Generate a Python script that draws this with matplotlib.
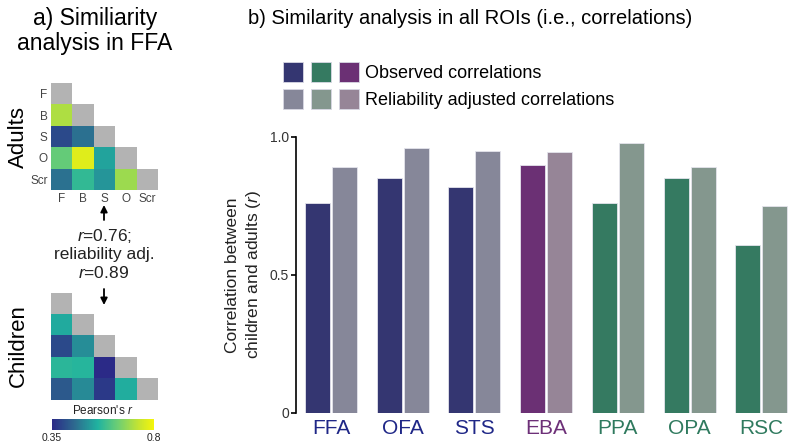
import numpy as np
import matplotlib
matplotlib.use("Agg")
import matplotlib.pyplot as plt
from matplotlib.colors import LinearSegmentedColormap, ListedColormap
from matplotlib.patches import Patch, FancyArrowPatch
from matplotlib.legend_handler import HandlerTuple

plt.rcParams["font.family"] = ["Liberation Sans", "DejaVu Sans"]
plt.rcParams["mathtext.fontset"] = "custom"
plt.rcParams["mathtext.it"] = "Liberation Sans:italic"
plt.rcParams["mathtext.rm"] = "Liberation Sans"

# ---------------- data ----------------
matrix_labels = ["F", "B", "S", "O", "Scr"]

# lower triangle of the similarity matrices (row by row, diagonal excluded)
adults_lower = [
    [],
    [0.71],
    [0.40, 0.458],
    [0.63, 0.77, 0.53],
    [0.46, 0.575, 0.51, 0.69],
]
children_lower = [
    [],
    [0.54],
    [0.40, 0.50],
    [0.565, 0.56, 0.35],
    [0.425, 0.495, 0.375, 0.545],
]
cbar_min, cbar_max = 0.35, 0.8

rois = ["FFA", "OFA", "STS", "EBA", "PPA", "OPA", "RSC"]
roi_group = ["face", "face", "face", "body", "scene", "scene", "scene"]
observed = [0.76, 0.85, 0.82, 0.90, 0.76, 0.85, 0.61]
adjusted = [0.89, 0.96, 0.95, 0.945, 0.98, 0.89, 0.75]

# ---------------- styles ----------------
dark_colors = {"face": "#343671", "body": "#6b3074", "scene": "#357a61"}
light_colors = {"face": "#868799", "body": "#968597", "scene": "#84978e"}
label_colors = {"face": "#1f2787", "body": "#6d3078", "scene": "#2f7a5e"}
diag_gray = "#b3b3b3"
rsm_cmap = LinearSegmentedColormap.from_list(
    "rsm",
    [(0.0, "#2b2a87"), (0.22, "#2d6a8f"), (0.45, "#20b3a0"),
     (0.65, "#6fcf72"), (0.85, "#c4e432"), (1.0, "#f5f50a")])

W, H = 800, 446
fig = plt.figure(figsize=(W / 100, H / 100), dpi=100)


def px_axes(left, top, width, height):
    """Axes placed with pixel coordinates measured from the top-left."""
    return fig.add_axes([left / W, 1 - (top + height) / H, width / W, height / H])


def build_matrix(lower):
    n = len(matrix_labels)
    mat = np.full((n, n), np.nan)
    for i, row in enumerate(lower):
        for j, v in enumerate(row):
            mat[i, j] = v
    return mat


def draw_rsm(ax, lower, show_labels):
    n = len(matrix_labels)
    mat = build_matrix(lower)
    cmap = rsm_cmap.copy()
    cmap.set_bad((1, 1, 1, 0))
    im = ax.imshow(mat, cmap=cmap, vmin=cbar_min, vmax=cbar_max,
                   interpolation="nearest")
    diag = np.full((n, n), np.nan)
    np.fill_diagonal(diag, 1.0)
    ax.imshow(diag, cmap=ListedColormap([diag_gray]), interpolation="nearest")
    for sp in ax.spines.values():
        sp.set_visible(False)
    ax.tick_params(length=0, labelsize=8.5, labelcolor="#444444", pad=2.5)
    if show_labels:
        ax.set_xticks(range(n))
        ax.set_xticklabels(matrix_labels)
        ax.set_yticks(range(n))
        ax.set_yticklabels(matrix_labels)
    else:
        ax.set_xticks([])
        ax.set_yticks([])
    ax.set_xlim(-0.5, n - 0.5)
    ax.set_ylim(n - 0.5, -0.5)
    return im


# ---------------- panel a ----------------
fig.text(95, H - 31, "a) Similiarity\nanalysis in FFA", transform=None,
         ha="center", va="center", fontsize=16.5, linespacing=1.15)

ax_ad = px_axes(51, 83, 107, 107)
draw_rsm(ax_ad, adults_lower, True)
ax_ch = px_axes(51, 293, 107, 107)
im = draw_rsm(ax_ch, children_lower, False)

fig.text(18, H - 137, "Adults", transform=None, rotation=90,
         ha="center", va="center", fontsize=16)
fig.text(18, H - 346, "Children", transform=None, rotation=90,
         ha="center", va="center", fontsize=16)

arrow_x = 104
for y0, y1 in [(220, 205), (289, 305)]:
    fig.add_artist(FancyArrowPatch(
        (arrow_x / W, 1 - y0 / H), (arrow_x / W, 1 - y1 / H),
        transform=fig.transFigure, arrowstyle="-|>", mutation_scale=10,
        color="black", lw=1.3, shrinkA=0, shrinkB=0))
fig.text(arrow_x, H - 254,
         "$r$=0.76;\nreliability adj.\n$r$=0.89",
         transform=None, ha="center", va="center", fontsize=12.5,
         linespacing=1.2, color="#222222")

cax = px_axes(52, 419, 102, 11)
cb = fig.colorbar(im, cax=cax, orientation="horizontal")
cb.outline.set_visible(False)
cb.set_ticks([])
fig.text(103, H - 410, "Pearson's $r$", transform=None, ha="center",
         va="center", fontsize=8.5, color="#222222")
fig.text(52, H - 438, f"{cbar_min}", transform=None, ha="center",
         va="center", fontsize=7.5, color="#222222")
fig.text(154, H - 438, f"{cbar_max}", transform=None, ha="center",
         va="center", fontsize=7.5, color="#222222")

# ---------------- panel b ----------------
fig.text(248, H - 18, "b) Similarity analysis in all ROIs (i.e., correlations)",
         transform=None, ha="left", va="center", fontsize=14.5)

ax = px_axes(296, 137, 499, 276)
x = np.arange(len(rois))
off = 0.188
bw = 0.35
ax.bar(x - off, observed, width=bw,
       color=[dark_colors[g] for g in roi_group],
       edgecolor="#e4e4ec", linewidth=0.6)
ax.bar(x + off, adjusted, width=bw,
       color=[light_colors[g] for g in roi_group],
       edgecolor="#e4e4ec", linewidth=0.6)

ax.set_xlim(-0.488, 6.47)
ax.set_ylim(0, 1.0)
for side in ["top", "right", "bottom"]:
    ax.spines[side].set_visible(False)
ax.spines["left"].set_bounds(0, 1.0)
ax.spines["left"].set_linewidth(1.2)
ax.set_yticks([0, 0.5, 1.0])
ax.set_yticklabels(["0", "0.5", "1.0"])
ax.tick_params(axis="y", direction="out", length=3.5, width=1.2,
               labelsize=10, labelcolor="#333333", pad=1.5)
ax.set_xticks(x)
ax.set_xticklabels(rois)
ax.tick_params(axis="x", length=0, labelsize=15, pad=4)
for lbl, g in zip(ax.get_xticklabels(), roi_group):
    lbl.set_color(label_colors[g])

ax.set_ylabel("Correlation between\nchildren and adults ($r$)",
              fontsize=12.5, labelpad=5, linespacing=1.25, color="#222222")

obs_handle = tuple(Patch(facecolor=dark_colors[g], edgecolor="#d8d8e4", lw=0.6)
                   for g in ["face", "scene", "body"])
adj_handle = tuple(Patch(facecolor=light_colors[g], edgecolor="#d8d8e4", lw=0.6)
                   for g in ["face", "scene", "body"])
fig.legend([obs_handle, adj_handle],
           ["Observed correlations", "Reliability adjusted correlations"],
           handler_map={tuple: HandlerTuple(ndivide=None, pad=0.45)},
           loc="upper left", bbox_to_anchor=(283 / W, 1 - 62 / H),
           frameon=False, fontsize=13, handlelength=4.2, handleheight=1.33,
           handletextpad=0.35, labelspacing=0.4, borderpad=0,
           borderaxespad=0)

fig.savefig("out.png", dpi=100)
